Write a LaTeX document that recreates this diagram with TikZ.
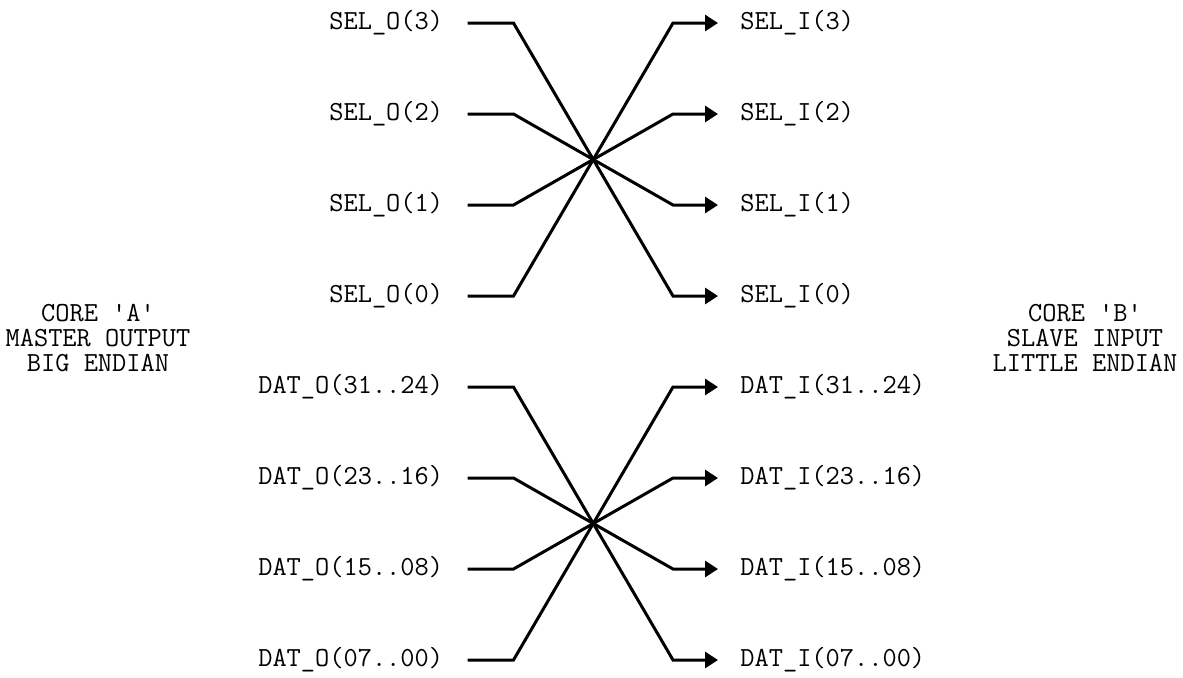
\documentclass[tikz,border=0pt]{standalone}
\usepackage{fontspec}
\usetikzlibrary{arrows.meta,positioning}
\newcommand{\sigfont}{\fontsize{13.8}{12.5}\selectfont\ttfamily}
\tikzset{
  outlabel/.style={anchor=east,font=\sigfont,inner xsep=12pt,inner ysep=2pt},
  inlabel/.style={anchor=west,font=\sigfont,inner xsep=11pt,inner ysep=2pt},
  corelabel/.style={align=center,font=\sigfont,inner sep=0pt},
  wire/.style={-{Triangle[length=6.5pt,width=8pt]},line width=1.5pt}
}
\begin{document}
\begin{tikzpicture}[x=0.5pt,y=-0.5pt]
    \path[use as bounding box] (0,0) rectangle (1183,677);
    \coordinate (lbend) at (513.5,0);
    \coordinate (rbend) at (673,0);
    % master side
    \node[outlabel] (so3) at (467.5,23) {SEL\_O(3)};
    \node[outlabel] (so2) at (467.5,114) {SEL\_O(2)};
    \node[outlabel] (so1) at (467.5,205) {SEL\_O(1)};
    \node[outlabel] (so0) at (467.5,296) {SEL\_O(0)};
    \node[outlabel] (do3) at (467.5,387) {DAT\_O(31..24)};
    \node[outlabel] (do2) at (467.5,478) {DAT\_O(23..16)};
    \node[outlabel] (do1) at (467.5,569) {DAT\_O(15..08)};
    \node[outlabel] (do0) at (467.5,660) {DAT\_O(07..00)};
    % slave side
    \node[inlabel] (si3) at (718,23) {SEL\_I(3)};
    \node[inlabel] (si2) at (718,114) {SEL\_I(2)};
    \node[inlabel] (si1) at (718,205) {SEL\_I(1)};
    \node[inlabel] (si0) at (718,296) {SEL\_I(0)};
    \node[inlabel] (di3) at (718,387) {DAT\_I(31..24)};
    \node[inlabel] (di2) at (718,478) {DAT\_I(23..16)};
    \node[inlabel] (di1) at (718,569) {DAT\_I(15..08)};
    \node[inlabel] (di0) at (718,660) {DAT\_I(07..00)};
    \node[corelabel] (corea) at (98,338) {CORE 'A'\\MASTER OUTPUT\\BIG ENDIAN};
    \node[corelabel] (coreb) at (1085,338) {CORE 'B'\\SLAVE INPUT\\LITTLE ENDIAN};
    % byte swap
    \draw[wire] (so3.east) -- (so3.east -| lbend) -- (si0.west -| rbend) -- (si0.west);
    \draw[wire] (so2.east) -- (so2.east -| lbend) -- (si1.west -| rbend) -- (si1.west);
    \draw[wire] (so1.east) -- (so1.east -| lbend) -- (si2.west -| rbend) -- (si2.west);
    \draw[wire] (so0.east) -- (so0.east -| lbend) -- (si3.west -| rbend) -- (si3.west);
    \draw[wire] (do3.east) -- (do3.east -| lbend) -- (di0.west -| rbend) -- (di0.west);
    \draw[wire] (do2.east) -- (do2.east -| lbend) -- (di1.west -| rbend) -- (di1.west);
    \draw[wire] (do1.east) -- (do1.east -| lbend) -- (di2.west -| rbend) -- (di2.west);
    \draw[wire] (do0.east) -- (do0.east -| lbend) -- (di3.west -| rbend) -- (di3.west);
  \end{tikzpicture}
\end{document}
